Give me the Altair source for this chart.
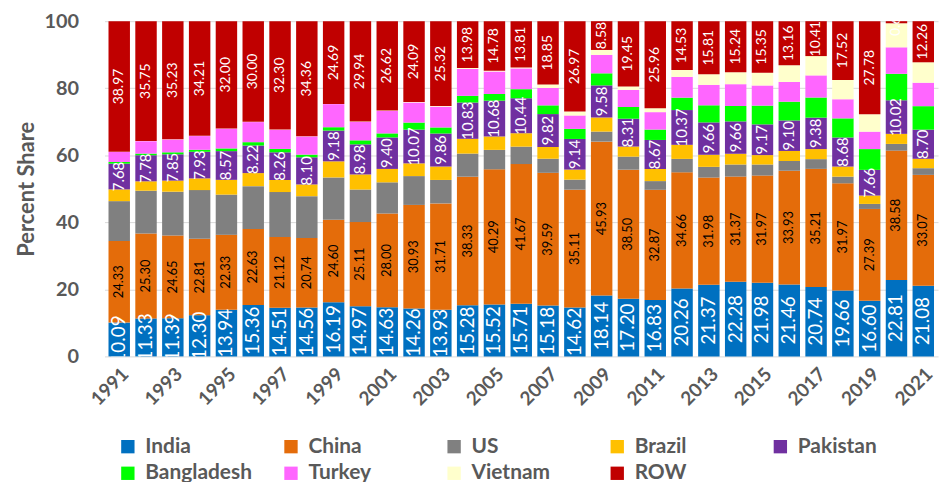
import altair as alt
import pandas as pd

years = [str(y) for y in range(1991, 2022)]
countries = ["India", "China", "US", "Brazil", "Pakistan", "Bangladesh", "Turkey", "Vietnam", "ROW"]
colors = ["#0070C0", "#E46C0A", "#808080", "#FFC000", "#7030A0", "#00FF00", "#FF66FF", "#FFFFCC", "#C00000"]

india = [10.09, 11.33, 11.39, 12.30, 13.94, 15.36, 14.51, 14.56, 16.19, 14.97, 14.63, 14.26, 13.93, 15.28, 15.52, 15.71,
         15.18, 14.62, 18.14, 17.20, 16.83, 20.26, 21.37, 22.28, 21.98, 21.46, 20.74, 19.66, 16.60, 22.81, 21.08]
china = [24.33, 25.30, 24.65, 22.81, 22.33, 22.63, 21.12, 20.74, 24.60, 25.11, 28.00, 30.93, 31.71, 38.33, 40.29, 41.67,
         39.59, 35.11, 45.93, 38.50, 32.87, 34.66, 31.98, 31.37, 31.97, 33.93, 35.21, 31.97, 27.39, 38.58, 33.07]
us = [11.9, 12.8, 13.1, 14.5, 12.0, 12.8, 13.4, 12.5, 12.6, 9.7, 9.3, 8.6, 7.0, 6.9, 5.8, 5.2,
      4.2, 3.0, 3.0, 3.9, 2.6, 4.0, 3.2, 3.6, 3.3, 2.9, 2.9, 2.0, 1.5, 2.0, 2.0]
brazil = [3.5, 2.8, 3.3, 3.5, 4.4, 3.9, 3.6, 3.5, 4.8, 4.5, 4.0, 3.8, 4.0, 4.4, 4.0, 4.0,
          3.5, 3.0, 4.2, 3.0, 3.6, 4.2, 3.6, 3.2, 2.8, 3.0, 3.0, 3.0, 2.5, 3.0, 2.8]
pakistan = [7.68, 7.78, 7.85, 7.93, 8.57, 8.22, 8.26, 8.10, 9.18, 8.98, 9.40, 10.07, 9.86, 10.83, 10.68, 10.44,
            9.82, 9.14, 9.58, 8.31, 8.67, 10.37, 9.66, 9.66, 9.17, 9.10, 9.38, 8.68, 7.66, 10.02, 8.70]
bangladesh = [0.5, 0.5, 0.6, 0.6, 0.8, 1.0, 1.0, 0.8, 1.0, 1.2, 1.2, 2.1, 1.8, 2.0, 2.0, 2.7,
              2.6, 3.0, 3.6, 3.5, 3.1, 3.7, 5.1, 4.6, 5.6, 5.6, 6.0, 5.7, 6.2, 7.9, 7.0]
turkey = [3.0, 3.7, 3.8, 4.1, 5.9, 6.0, 5.7, 5.4, 6.9, 5.5, 6.7, 6.0, 6.2, 8.0, 6.7, 6.2,
          5.2, 4.0, 5.5, 5.1, 5.2, 6.2, 6.1, 6.5, 6.0, 5.9, 6.6, 5.7, 5.2, 7.9, 7.0]
vietnam = [0.03, 0.04, 0.08, 0.05, 0.06, 0.09, 0.11, 0.04, 0.04, 0.10, 0.15, 0.15, 0.18, 0.28, 0.23, 0.27,
           1.06, 1.16, 1.47, 1.04, 1.17, 2.08, 3.18, 3.55, 3.83, 4.95, 5.76, 5.77, 5.17, 7.17, 6.09]
row = [38.97, 35.75, 35.23, 34.21, 32.00, 30.00, 32.30, 34.36, 24.69, 29.94, 26.62, 24.09, 25.32, 13.98, 14.78, 13.81,
       18.85, 26.97, 8.58, 19.45, 25.96, 14.53, 15.81, 15.24, 15.35, 13.16, 10.41, 17.52, 27.78, 0.62, 12.26]

series = [india, china, us, brazil, pakistan, bangladesh, turkey, vietnam, row]
records = []
for k, (name, vals) in enumerate(zip(countries, series)):
    for y, v in zip(years, vals):
        records.append({"year": y, "country": name, "k": k, "value": v})
df = pd.DataFrame(records)

FONT = "Lato"
GREY = "#595959"

base = alt.Chart(df).transform_stack(
    stack="value", groupby=["year"], sort=[alt.SortField("k", order="ascending")], as_=["y0", "y1"]
).transform_calculate(mid="(datum.y0 + datum.y1) / 2")

xenc = alt.X("year:N", sort=years, title=None,
             scale=alt.Scale(paddingInner=0.2, paddingOuter=0.15),
             axis=alt.Axis(values=years[::2], labelAngle=315, labelFontSize=19, labelFontWeight="bold",
                           labelColor=GREY, labelFont=FONT, ticks=False, domain=False, labelPadding=8))
yscale = alt.Scale(domain=[0, 100])

bars = base.mark_bar(stroke=None).encode(
    x=xenc,
    y=alt.Y("y0:Q", scale=yscale, title="Percent Share",
            axis=alt.Axis(values=[0, 20, 40, 60, 80, 100], grid=True, gridColor="#D9D9D9", domain=False,
                          ticks=False, labelFontSize=20, labelFontWeight="bold", labelColor=GREY,
                          labelFont=FONT, labelPadding=26, titleFontSize=22, titleFontWeight="bold",
                          titleColor=GREY, titleFont=FONT, titlePadding=6)),
    y2="y1",
    color=alt.Color("country:N", scale=alt.Scale(domain=countries, range=colors),
                    legend=alt.Legend(title=None, orient="none", legendX=13, legendY=417, direction="horizontal",
                                      columns=5, symbolType="square", symbolSize=180, symbolStrokeWidth=0,
                                      labelFontSize=21, labelFontWeight="bold", labelColor=GREY, labelFont=FONT,
                                      labelOffset=7, gridAlign="all", columnPadding=28, rowPadding=5)),
    order=alt.Order("k:Q"),
)

def labels(name, color, size):
    return base.transform_filter(alt.datum.country == name).mark_text(
        angle=270, color=color, fontSize=size, font=FONT, clip=True, align="center", baseline="middle"
    ).encode(
        x=alt.X("year:N", sort=years),
        y=alt.Y("mid:Q", scale=yscale),
        text=alt.Text("value:Q", format=".2f"),
    )

chart = alt.layer(
    bars,
    labels("India", "white", 19),
    labels("China", "black", 13),
    labels("Pakistan", "white", 15),
    labels("ROW", "white", 14),
).properties(
    width=838, height=337,
    autosize=alt.AutoSizeParams(type="none"),
    padding={"left": 97, "top": 12, "right": 5, "bottom": 125},
).configure_view(stroke=None)

chart.save("out.html", embed_options={"renderer": "svg", "actions": False})
